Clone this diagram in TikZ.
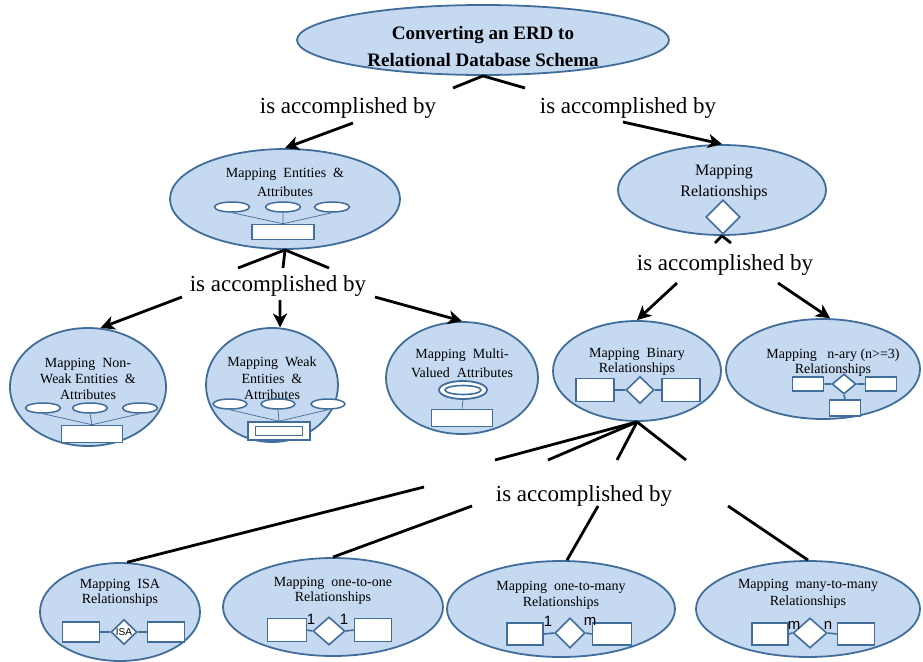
\documentclass[tikz,border=0pt]{standalone}
\usepackage{fontspec}
\setmainfont{Liberation Serif}
\newfontfamily\sansf{Liberation Sans}
\usetikzlibrary{shapes.geometric,arrows.meta,calc}
\definecolor{cfill}{RGB}{197,217,241}
\definecolor{cedge}{RGB}{65,109,155}
\begin{document}
\begin{tikzpicture}[x=1pt,y=-1pt,
  concept/.style={ellipse, draw=cedge, fill=cfill, line width=1.8pt, inner sep=0},
  ctext/.style={align=center, inner sep=0, font=\fontsize{14}{#1}\selectfont},
  ctext/.default=16,
  titletext/.style={align=center, inner sep=0, font=\bfseries\fontsize{19}{27}\selectfont},
  linkph/.style={inner sep=0, font=\fontsize{23}{25}\selectfont},
  conn/.style={line width=2.8pt, black},
  arr/.style={conn, -{Stealth[length=14pt, width=14pt, inset=4pt]}},
  entbox/.style={rectangle, draw=cedge, fill=white, line width=1.6pt, inner sep=0},
  attrell/.style={ellipse, draw=cedge, fill=white, line width=1.5pt, inner sep=0,
                  minimum width=35pt, minimum height=10pt},
  reldia/.style={diamond, draw=cedge, fill=white, line width=1.6pt, inner sep=0},
  attrlink/.style={draw=cedge, line width=0.7pt},
  rellink/.style={draw=cedge, line width=1.6pt},
  card/.style={inner sep=0, font=\sansf\fontsize{15}{15}\selectfont},
]
\useasboundingbox (0,0) rectangle (923,661);

% ---------- concepts ----------
\node[concept, minimum width=372pt, minimum height=70pt] (title) at (483,40) {};
\node[titletext] (titletxt) at (483,47) {Converting an ERD to\\Relational Database Schema};

\node[concept, minimum width=230pt, minimum height=100pt] (ent) at (285,199) {};
\node[concept, minimum width=208pt, minimum height=90pt] (rel) at (722,190) {};
\node[concept, minimum width=156pt, minimum height=118pt] (nw) at (88,387) {};
\node[concept, minimum width=132pt, minimum height=114pt] (weak) at (272,385) {};
\node[concept, minimum width=152pt, minimum height=112pt] (multi) at (462,378) {};
\node[concept, minimum width=168pt, minimum height=100pt] (bin) at (637,371) {};
\node[concept, minimum width=194pt, minimum height=100pt] (nary) at (823,369) {};
\node[concept, minimum width=160pt, minimum height=98pt] (isa) at (120,612) {};
\node[concept, minimum width=220pt, minimum height=98pt] (oo) at (333,607) {};
\node[concept, minimum width=228pt, minimum height=96pt] (om) at (561,609) {};
\node[concept, minimum width=224pt, minimum height=96pt] (mm) at (808,609) {};

% ---------- concept texts ----------
\node[ctext=19] (enttxt) at (285,182.5) {Mapping\ \ Entities\ \ \&\\Attributes};
\node[inner sep=0, align=center, font=\fontsize{16}{21}\selectfont] (reltxt) at (724,182.5) {Mapping\\Relationships};
\node[ctext=16] (nwtxt) at (88,379) {Mapping\ \ Non-\\Weak Entities\ \ \&\\Attributes};
\node[ctext=16.5] (weaktxt) at (272,378.5) {Mapping\ \ Weak\\Entities\ \ \&\\Attributes};
\node[ctext=19] (multitxt) at (462,363.5) {Mapping\ \ Multi-\\Valued\ \ Attributes};
\node[ctext=15] (bintxt) at (637,362) {Mapping\ \ Binary\\Relationships};
\node[ctext=15] (narytxt) at (833,363) {Mapping\ \ \ n-ary (n>=3)\\Relationships};
\node[ctext=15] (isatxt) at (120,592.5) {Mapping\ \ ISA\\Relationships};
\node[ctext=15] (ootxt) at (333,590.5) {Mapping\ \ one-to-one\\Relationships};
\node[ctext=16] (omtxt) at (561,595) {Mapping\ \ one-to-many\\Relationships};
\node[ctext=17] (mmtxt) at (808,593.5) {Mapping\ \ many-to-many\\Relationships};

% ---------- ER glyphs inside the concepts ----------
% entity with attributes
\node[attrell] (ea1) at (232,207) {};
\node[attrell] (ea2) at (283,207) {};
\node[attrell] (ea3) at (332,207) {};
\node[entbox, minimum width=62pt, minimum height=15pt] (eb) at (283,232) {};
\draw[attrlink] (eb.north) -- (ea1.south) (eb.north) -- (ea2.south) (eb.north) -- (ea3.south);

% relationship diamond
\node[reldia, minimum width=34pt, minimum height=34pt] (rd) at (723,217) {};

% non-weak entity
\node[attrell] (na1) at (43,408) {};
\node[attrell] (na2) at (90,408) {};
\node[attrell] (na3) at (140,408) {};
\node[entbox, minimum width=61pt, minimum height=17pt] (nb) at (92,434) {};
\draw[attrlink] (nb.north) -- (na1.south) (nb.north) -- (na2.south) (nb.north) -- (na3.south);

% weak entity (double box)
\node[attrell, minimum width=34pt] (wa1) at (230,404) {};
\node[attrell, minimum width=34pt] (wa2) at (278,404) {};
\node[attrell, minimum width=34pt] (wa3) at (328,404) {};
\node[entbox, minimum width=62pt, minimum height=18pt] (wb) at (279,431) {};
\node[entbox, minimum width=47pt, minimum height=9pt] (wbi) at (279,431) {};
\draw[attrlink] (wb.north) -- (wa1.south) (wb.north) -- (wa2.south) (wb.north) -- (wa3.south);

% multi-valued attribute (double ellipse)
\node[attrell, minimum width=48pt, minimum height=18pt, line width=1.8pt] (ma) at (463,390) {};
\node[attrell, minimum width=36pt, minimum height=9pt, line width=1.6pt] (mai) at (463,390) {};
\node[entbox, minimum width=61pt, minimum height=17pt] (mb) at (462,418) {};
\draw[attrlink] (ma.south) -- (mb.north);

% binary relationship
\node[entbox, minimum width=38pt, minimum height=23pt] (bl) at (595,390) {};
\node[reldia, minimum width=28pt, minimum height=27pt] (bd) at (640,390) {};
\node[entbox, minimum width=38pt, minimum height=23pt] (br) at (681,390) {};
\draw[rellink] (bl.east) -- (bd.west) (bd.east) -- (br.west);

% n-ary relationship
\node[entbox, minimum width=31pt, minimum height=14pt] (ql) at (808,384) {};
\node[reldia, minimum width=24pt, minimum height=20pt] (qd) at (844,384) {};
\node[entbox, minimum width=31pt, minimum height=14pt] (qr) at (881,384) {};
\node[entbox, minimum width=31pt, minimum height=16pt] (qb) at (845,408) {};
\draw[rellink] (ql.east) -- (qd.west) (qd.east) -- (qr.west) (qd.south) -- (qb.north);

% ISA
\node[entbox, minimum width=37pt, minimum height=20pt] (il) at (81,632) {};
\node[reldia, minimum width=26pt, minimum height=25pt] (id) at (124,632) {};
\node[entbox, minimum width=37pt, minimum height=20pt] (ir) at (166,632) {};
\draw[rellink] (il.east) -- (id.west) (id.east) -- (ir.west);
\node[inner sep=0, font=\sansf\fontsize{10}{10}\selectfont] (isalbl) at (124,632) {ISA};

% one-to-one
\node[entbox, minimum width=39pt, minimum height=23pt] (ol) at (287,630) {};
\node[reldia, minimum width=32pt, minimum height=28pt] (od) at (329,631) {};
\node[entbox, minimum width=37pt, minimum height=23pt] (or) at (373,630) {};
\draw[rellink] (ol.east) -- (od.west) (od.east) -- (or.west);
\node[card] (oc1) at (311,619) {1};
\node[card] (oc2) at (344,619) {1};

% one-to-many
\node[entbox, minimum width=36pt, minimum height=22pt] (ml) at (525,634) {};
\node[reldia, minimum width=30pt, minimum height=30pt] (md) at (570,633) {};
\node[entbox, minimum width=39pt, minimum height=22pt] (mr) at (612,634) {};
\draw[rellink] (ml.east) -- (md.west) (md.east) -- (mr.west);
\node[card] (mc1) at (548,621) {1};
\node[card] (mc2) at (590,621) {m};

% many-to-many
\node[entbox, minimum width=36pt, minimum height=22pt] (nl) at (770,634) {};
\node[reldia, minimum width=34pt, minimum height=30pt] (nd) at (810,633) {};
\node[entbox, minimum width=37pt, minimum height=22pt] (nr) at (856,634) {};
\draw[rellink] (nl.east) -- (nd.west) (nd.east) -- (nr.west);
\node[card] (nc1) at (794,625) {m};
\node[card] (nc2) at (828,625) {n};

% ---------- linking phrases ----------
\node[linkph] (l1) at (348,108) {is accomplished by};
\node[linkph] (r1) at (628,108) {is accomplished by};
\node[linkph] (l2) at (278,286) {is accomplished by};
\node[linkph] (r2) at (725,265) {is accomplished by};
\node[linkph] (r3) at (584,496) {is accomplished by};

% ---------- connectors ----------
\draw[conn] (title.south) -- ($(l1)+(105,-20)$);
\draw[conn] (title.south) -- ($(r1)+(-103,-20)$);
\draw[arr] ($(l1)+(5,15)$) -- (ent.north);
\draw[arr] ($(r1)+(-5,14)$) -- (rel.north);

\draw[conn] (ent.south) -- ($(l2)+(-40,-18)$);
\draw[conn] (ent.south) -- ($(l2)+(5,-18)$);
\draw[conn] (ent.south) -- ($(l2)+(51,-18)$);
\draw[arr] ($(l2)+(-96,11)$) -- (nw.78);
\draw[arr] ($(l2)+(2,14)$) -- (weak.82);
\draw[arr] ($(l2)+(97,11)$) -- (multi.north);

\draw[conn] (rel.south) -- ($(r2)+(-10,-22)$);
\draw[conn] (rel.south) -- ($(r2)+(6,-22)$);
\draw[arr] ($(r2)+(-48,18)$) -- (bin.north);
\draw[arr] ($(r2)+(53,18)$) -- (nary.82);

\draw[conn] (bin.south) -- ($(r3)+(-89,-36)$);
\draw[conn] (bin.south) -- ($(r3)+(-36,-36)$);
\draw[conn] (bin.south) -- ($(r3)+(33,-36)$);
\draw[conn] (bin.south) -- ($(r3)+(102,-36)$);
\draw[conn] ($(r3)+(-160,-9)$) -- (isa.82);
\draw[conn] ($(r3)+(-112,10)$) -- (oo.north);
\draw[conn] ($(r3)+(14,10)$) -- (om.83);
\draw[conn] ($(r3)+(144,10)$) -- (mm.north);
\end{tikzpicture}
\end{document}
